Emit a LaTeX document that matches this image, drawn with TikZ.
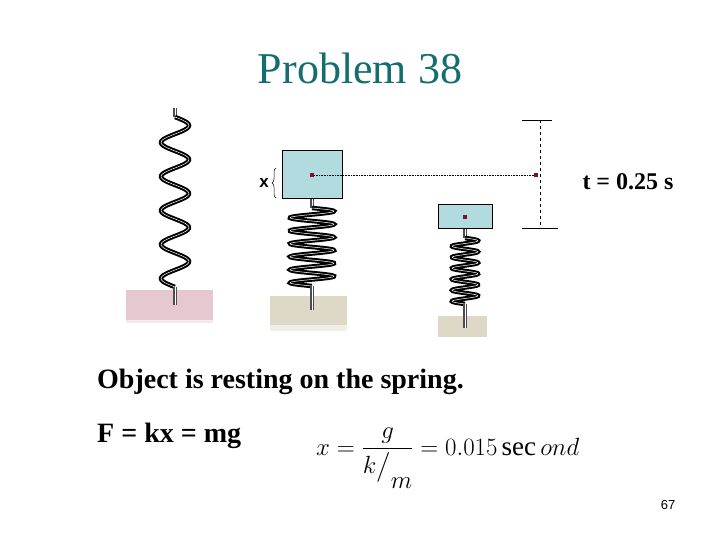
\documentclass[tikz,border=0pt]{standalone}
\usepackage{amsmath}
\usepackage{fontspec}
\setmainfont{Liberation Serif}
\newfontfamily\sansf{Liberation Sans}
\usetikzlibrary{decorations.pathreplacing}
\definecolor{teal1}{RGB}{20,110,110}
\definecolor{boxc}{RGB}{178,219,224}
\definecolor{dotc}{RGB}{128,16,48}
\definecolor{pinkb}{RGB}{230,200,208}
\definecolor{tanb}{RGB}{222,216,198}
\begin{document}
\begin{tikzpicture}[x=1pt,y=-1pt,
  spr/.style={line width=2pt,double=white,double distance=0.5pt,draw=black},
  rod/.style={line width=1.6pt,double=white,double distance=0.5pt,draw=black!70},
  mass/.style={draw=black,fill=boxc,line width=0.8pt},
  dotm/.style={fill=dotc}]
\useasboundingbox (0,0) rectangle (720,540);
\node (title) at (360,68) {\fontsize{44}{48}\selectfont\color{teal1}Problem 38};
% bases
\fill[pinkb] (126,290) rectangle (213,320);
\fill[pinkb!40] (126,320) rectangle (213,323);
\fill[tanb] (270,296) rectangle (347,325);
\fill[tanb!40] (270,325) rectangle (347,331);
\fill[tanb] (438,316) rectangle (487,337);
% spring 1
\draw[rod] (175,108) -- (175,117);
\draw[spr] plot[domain=0:5,samples=120,smooth] ({175+14*sin(\x*360)},{117+\x*34});
\draw[rod] (175,287) -- (175,305);
% spring 2
\draw[rod] (312,198) -- (312,208);
\draw[spr] plot[domain=0:6,samples=150,smooth] ({312+22*sin(\x*360)},{208+\x*13});
\draw[rod] (312,286) -- (312,310);
% spring 3
\draw[rod] (465,228) -- (465,238);
\draw[spr] plot[domain=0:6,samples=150,smooth] ({465+13*sin(\x*360)},{238+\x*11});
\draw[rod] (465,304) -- (465,328);
% masses
\node[mass,minimum width=60pt,minimum height=48pt,inner sep=0pt] (m1) at (312,174) {};
\node[mass,minimum width=54pt,minimum height=24pt,inner sep=0pt] (m2) at (465,216) {};
\node[dotm,minimum size=4pt,inner sep=0pt] (d1) at (312,175) {};
\node[dotm,minimum size=4pt,inner sep=0pt] (d2) at (465,217) {};
\node[dotm,minimum size=4pt,inner sep=0pt] (d3) at (536,175) {};
\draw[densely dotted,line width=0.6pt] (d1) -- (d3);
% brace
\draw[decorate,decoration={brace,amplitude=4pt},line width=0.5pt] (276,198) -- (276,168);
\node[font=\sansf\fontsize{17}{17}\selectfont\bfseries] (xl) at (264,183) {x};
% measure bar
\coordinate (bt) at (540,120);
\coordinate (bb) at (540,228);
\draw[dashed,line width=0.8pt] (bt) -- (bb);
\draw[line width=0.8pt] (522,120) -- (552,120);
\draw[line width=0.8pt] (522,228) -- (558,228);
\node[font=\bfseries\fontsize{24}{24}\selectfont] (t) at (628,182) {t = 0.25 s};
% texts
\node[anchor=west,font=\bfseries\fontsize{28}{28}\selectfont,inner sep=0] (obj) at (97,382) {Object is resting on the spring.};
\node[anchor=west,font=\bfseries\fontsize{28}{28}\selectfont,inner sep=0] (f) at (97,436) {F = kx = mg};
\node[anchor=west,inner sep=0] (eq) at (316,458) {\fontsize{27}{32}\selectfont$x=\dfrac{g}{k\big/\raisebox{-1.2ex}{$m$}}=0.015\sec ond$};
\node[font=\sansf\fontsize{13}{13}\selectfont] (pg) at (668,505) {67};
\end{tikzpicture}
\end{document}
